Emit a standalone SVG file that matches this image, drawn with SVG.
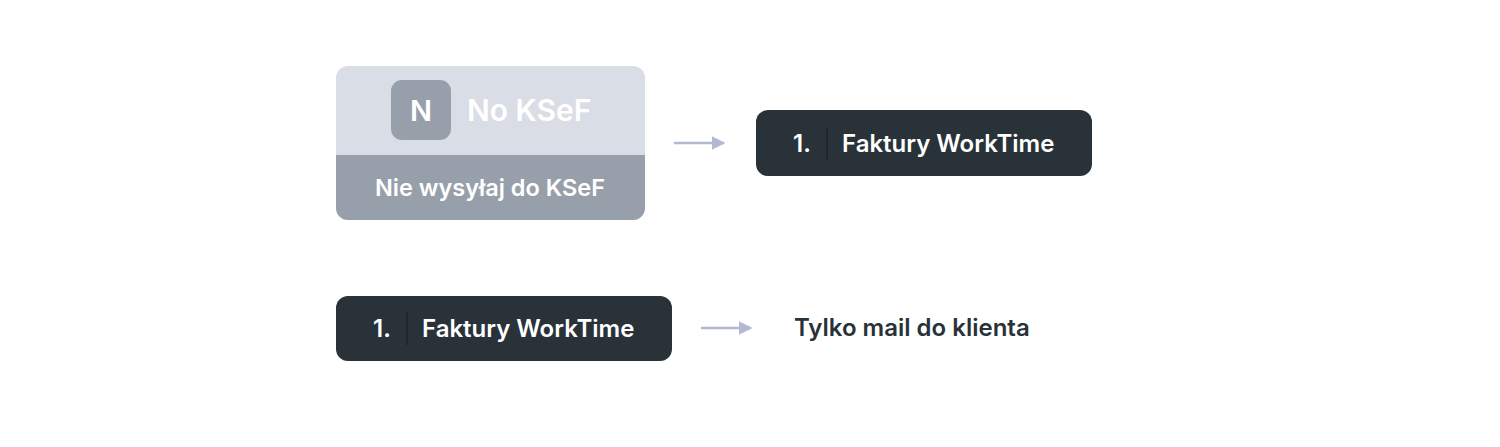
<svg xmlns="http://www.w3.org/2000/svg" width="1500" height="447" viewBox="0 0 1500 447">
<style>
text{font-family:Inter,"Liberation Sans",sans-serif;font-weight:600}
.dark{fill:#283238}
.w{fill:#ffffff}
.sep{stroke:#1c2428;stroke-width:1.5}
.conn{stroke:#b3b9d3;stroke-width:2.5;fill:none}
</style>
<defs>
<marker id="ah" viewBox="0 0 10 10" refX="9" refY="5" markerWidth="5.5" markerHeight="5.5" markerUnits="strokeWidth" orient="auto">
<path d="M0,0 L10,5 L0,10 z" fill="#b3b9d3"/>
</marker>
<clipPath id="cardclip"><rect x="336" y="66" width="309" height="154" rx="12"/></clipPath>
</defs>
<rect width="1500" height="447" fill="#ffffff"/>
<g id="node-nokse">
<g clip-path="url(#cardclip)">
<rect x="336" y="66" width="309" height="154" fill="#d9dde5"/>
<rect x="336" y="155" width="309" height="65" fill="#979fab"/>
</g>
<rect x="391" y="80" width="60" height="60" rx="11" fill="#979fab"/>
<text x="421" y="121" font-size="29" text-anchor="middle" class="w">N</text>
<text x="467" y="121" font-size="30" class="w">No KSeF</text>
<text x="490" y="196" font-size="23.5" text-anchor="middle" class="w">Nie wysyłaj do KSeF</text>
</g>
<g id="node-faktury1">
<rect x="756" y="110" width="336" height="66" rx="12" class="dark"/>
<text x="793" y="152" font-size="24" class="w">1.</text>
<line x1="827" y1="127" x2="827" y2="160" class="sep"/>
<text x="842" y="152" font-size="24" class="w">Faktury WorkTime</text>
</g>
<g id="node-faktury2">
<rect x="336" y="296" width="336" height="65" rx="12" class="dark"/>
<text x="373" y="337" font-size="24" class="w">1.</text>
<line x1="407" y1="312" x2="407" y2="345" class="sep"/>
<text x="422" y="337" font-size="24" class="w">Faktury WorkTime</text>
</g>
<g id="node-mail">
<text x="794" y="336" font-size="24" class="dark">Tylko mail do klienta</text>
</g>
<g id="connectors">
<line x1="674" y1="143" x2="724" y2="143" class="conn" marker-end="url(#ah)"/>
<line x1="701" y1="328" x2="751" y2="328" class="conn" marker-end="url(#ah)"/>
</g>
</svg>
